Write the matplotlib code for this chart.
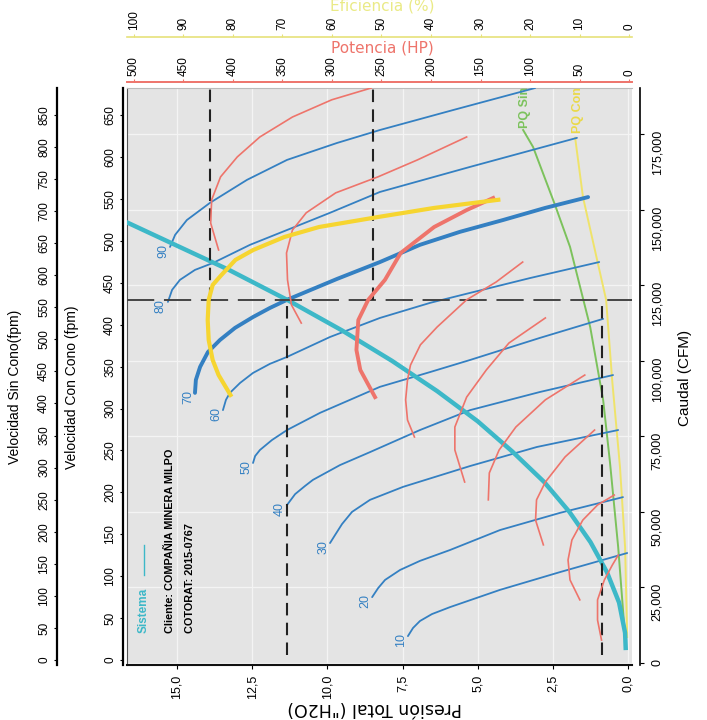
import numpy as np
import matplotlib
matplotlib.use('Agg')
import matplotlib.pyplot as plt
from matplotlib.ticker import FuncFormatter

plt.rcParams['font.family'] = ['Liberation Sans', 'DejaVu Sans']

# ---- values (pressure "H2O, flow CFM) ----
fan_angles = [10, 20, 30, 40, 50, 60, 70, 80, 90]
fan_p = {
    10: [7.32, 7.15, 6.92, 6.52, 5.92, 4.26, 2.26, 0.03],
    20: [8.51, 8.31, 8.08, 7.58, 6.92, 5.92, 4.26, 2.26, 0.17],
    30: [9.91, 9.74, 9.51, 9.18, 8.58, 7.48, 5.25, 3.03, 0.33],
    40: [11.34, 11.07, 10.74, 10.48, 9.58, 8.58, 6.92, 5.25, 2.93, 0.50],
    50: [12.47, 12.40, 12.24, 11.84, 11.34, 10.24, 8.25, 6.58, 5.25, 2.93, 0.83],
    60: [13.47, 13.37, 13.24, 12.90, 12.47, 11.91, 11.34, 9.91, 8.25, 6.58, 5.25, 3.26, 0.96],
    70: [14.40, 14.37, 14.23, 13.97, 13.57, 13.07, 12.47, 11.91, 11.34, 9.68, 8.25, 6.92,
         5.59, 4.16, 2.76, 1.33],
    80: [15.30, 15.16, 14.90, 14.40, 13.80, 12.57, 11.34, 9.91, 8.25, 5.25, 1.70],
    90: [15.23, 15.06, 14.67, 13.90, 12.67, 11.34, 9.68, 8.25, 5.82, 3.09],
}
fan_q = {
    10: [8900, 11600, 13900, 16200, 18500, 24200, 30100, 36400],
    20: [21800, 24800, 27500, 30800, 33800, 37400, 44000, 49700, 54900],
    30: [39700, 42400, 46000, 50000, 54000, 58300, 65200, 71500, 77100],
    40: [52300, 55900, 58600, 60600, 65500, 69800, 77100, 83700, 89700, 95300],
    50: [66200, 68500, 70500, 73800, 77100, 82800, 91400, 96300, 100300, 107600, 113900],
    60: [83700, 87100, 89400, 92700, 96000, 99000, 101300, 107900, 114200, 119200, 122500,
         127400, 132700],
    70: [89400, 93700, 98000, 102900, 106900, 110900, 114500, 117500, 120200, 127100, 132700,
         138400, 142700, 146600, 150600, 154200],
    80: [119500, 123500, 126800, 130100, 132400, 138400, 143300, 149000, 155900, 164200, 173800],
    90: [137700, 141700, 146600, 152300, 159900, 166500, 172100, 176400, 183000, 190300],
}

# power curves (HP) per blade angle
pow_hp = {
    10: [27.8, 31.8, 31.8, 24.9, 16.9, 10.9],
    20: [49.7, 59.6, 61.6, 57.7, 46.7, 31.8, 14.9],
    30: [86.5, 94.4, 93.4, 84.5, 64.6, 34.8],
    40: [142.1, 141.1, 131.2, 114.3, 84.5, 44.7],
    50: [166.0, 175.9, 175.9, 164.0, 144.1, 121.3, 84.5],
    60: [216.7, 223.7, 225.6, 223.7, 220.7, 210.7, 193.8, 164.0, 134.2, 107.4],
    70: [256.5, 271.4, 275.3, 273.4, 263.4, 246.5, 230.6, 196.8, 164.0, 137.2],
    80: [331.0, 340.9, 344.9, 345.9, 339.9, 326.0, 296.2, 253.5, 213.7, 164.0],
    90: [414.5, 422.5, 421.5, 412.5, 395.6, 372.8, 339.9, 300.2, 260.4],
}
pow_q = {
    10: [7600, 14200, 20900, 27500, 32400, 35700],
    20: [20900, 27500, 34100, 40700, 47300, 52300, 55600],
    30: [39100, 47300, 54000, 59900, 68200, 77100],
    40: [54000, 62900, 70500, 78100, 87100, 95300],
    50: [59900, 70500, 78100, 88000, 97000, 105900, 114200],
    60: [74800, 80400, 87100, 93700, 98600, 105300, 111200, 120200, 126100, 132700],
    70: [88000, 97000, 103600, 113500, 120200, 126800, 135700, 144300, 149900, 153900],
    80: [112500, 118500, 126800, 135700, 143300, 149000, 155600, 160900, 166500, 174100],
    90: [136700, 145600, 153300, 160900, 167500, 174100, 180700, 186400, 190300],
}

# efficiency curve (%) of the selected 70 deg fan
eff_pct = [80.5, 82.9, 84.1, 84.9, 85.1, 84.9, 84.1, 82.5, 79.5, 75.9, 69.6, 62.6, 50.7, 39.4, 26.4]
eff_q = [88700, 95300, 100300, 106900, 113500, 120200, 125100, 128100, 133400, 136700, 141000,
         144300, 147600, 150600, 153300]

# system curve
sys_p = [0.08, 0.10, 0.30, 0.70, 1.25, 1.95, 2.80, 3.85, 5.00, 6.35, 7.85, 9.50, 11.30, 13.25, 16.70]
sys_q = [5000, 10000, 20000, 30000, 40000, 50000, 60000, 70000, 80000, 90000, 100000, 110000,
         120000, 130000, 146000]

# velocity pressure without / with cone
pq_sin_p = [0.10, 0.33, 0.60, 0.83, 1.26, 1.93, 2.43, 3.16, 3.49]
pq_sin_q = [8600, 38400, 66200, 87100, 111200, 137700, 151600, 170800, 176400]
pq_con_p = [0.03, 0.10, 0.27, 0.53, 0.73, 1.03, 1.50, 1.76]
pq_con_q = [8600, 38400, 64900, 93700, 120200, 133400, 154200, 173800]

# duty point and tolerance limits
op_q = 120200
op_p = 11.34
p_low = [11.34, 0.86]
p_high = [13.90, 8.48]

p_ticks = [0, 2.5, 5, 7.5, 10, 12.5, 15]
q_ticks = [0, 25000, 50000, 75000, 100000, 125000, 150000, 175000]
hp_ticks = list(range(0, 501, 50))
eff_ticks = list(range(0, 101, 10))
vcon_ticks = list(range(0, 651, 50))
vsin_ticks = list(range(0, 851, 50))

BLUE = '#3480c2'
RED = '#ee746b'
TEAL = '#3db8c8'
YEL = '#f6d530'
GREEN = '#7cc25c'
PQYEL = '#efe36a'

PT = 0.72  # points per pixel at 100 dpi
W, H = 707, 720
fig = plt.figure(figsize=(W / 100, H / 100), dpi=100)
L, R, T, B = 127, 632, 88, 665
ax = fig.add_axes([L / W, 1 - B / H, (R - L) / W, (B - T) / H])
ax.set_facecolor('#e4e4e4')
ax.set_xlim(16.66, -0.13)
ax.set_ylim(-660, 190300)
ax.grid(True, color='#f4f4f4', lw=0.9)
ax.set_axisbelow(True)

for a in fan_angles:
    lw = 2.8 if a == 70 else 1.3
    ax.plot(fan_p[a], fan_q[a], color=BLUE, lw=lw, zorder=4, solid_capstyle='round')
    ax.annotate(str(a), xy=(fan_p[a][0], fan_q[a][0]), xytext=(-5, -3),
                textcoords='offset points', rotation=90, ha='center', va='center',
                color=BLUE, fontsize=9, zorder=6)

ax.plot(sys_p, sys_q, color=TEAL, lw=3.2, zorder=5)
ax.plot(pq_sin_p, pq_sin_q, color=GREEN, lw=1.4, zorder=3)
ax.plot(pq_con_p, pq_con_q, color=PQYEL, lw=1.4, zorder=3)
ax.text(pq_sin_p[-1] - 0.05, pq_sin_q[-1] + 800, 'PQ Sin', rotation=90, color=GREEN,
        fontsize=9, ha='center', va='bottom', fontweight='bold', clip_on=True)
ax.text(pq_con_p[-1] - 0.1, pq_con_q[-1] + 1500, 'PQ Con', rotation=90, color='#ead94a',
        fontsize=9, ha='center', va='bottom', fontweight='bold', clip_on=True)

dash = dict(color='#222222', lw=1.5, ls=(0, (6, 3.5)), zorder=6)
ax.plot([16.66, -0.13], [op_q, op_q], color='#444444', lw=1.4, ls=(0, (14, 5)), zorder=6)
for p in p_low:
    ax.plot([p, p], [2500, op_q], **dash)
for p in p_high:
    ax.plot([p, p], [op_q, 190300], **dash)

ax.text(0.032, 0.055, 'Sistema', transform=ax.transAxes, rotation=90, color=TEAL,
        fontsize=8.5, fontweight='bold', ha='center', va='bottom')
ax.plot([0.034, 0.034], [0.156, 0.208], transform=ax.transAxes, color=TEAL, lw=1)
ax.text(0.085, 0.055, 'Cliente: COMPAÑIA MINERA MILPO', transform=ax.transAxes,
        rotation=90, fontsize=7.8, fontweight='bold', ha='center', va='bottom')
ax.text(0.125, 0.055, 'COTORAT: 2015-0767', transform=ax.transAxes,
        rotation=90, fontsize=7.8, fontweight='bold', ha='center', va='bottom')

# power axis (top, red)
ax_hp = ax.twiny()
ax_hp.set_xlim(507, -3)
for a in fan_angles:
    lw = 2.8 if a == 70 else 1.2
    ax_hp.plot(pow_hp[a], pow_q[a], color=RED, lw=lw, zorder=3)
ax_hp.set_xticks(hp_ticks)
ax_hp.spines['top'].set_position(('outward', 6 * PT))
ax_hp.spines['top'].set_color(RED)
ax_hp.spines['top'].set_linewidth(1.4)
for s in ['left', 'right', 'bottom']:
    ax_hp.spines[s].set_visible(False)
ax_hp.tick_params(axis='x', labelrotation=90, labelsize=8.5, length=2, color=RED, pad=2)
fig.text(382 / W, 1 - 48 / H, 'Potencia (HP)', color=RED, ha='center', va='center', fontsize=11,
         family=['DejaVu Sans'])

# efficiency axis (top, yellow)
ax_ef = ax.twiny()
ax_ef.set_xlim(101.4, -0.6)
ax_ef.plot(eff_pct, eff_q, color=YEL, lw=3.0, zorder=3)
ax_ef.set_xticks(eff_ticks)
ax_ef.spines['top'].set_position(('outward', 51 * PT))
ax_ef.spines['top'].set_color('#e6e27a')
ax_ef.spines['top'].set_linewidth(1.2)
for s in ['left', 'right', 'bottom']:
    ax_ef.spines[s].set_visible(False)
ax_ef.tick_params(axis='x', labelrotation=90, labelsize=8.5, length=2, color='#e6e27a', pad=3)
fig.text(382 / W, 1 - 6 / H, 'Eficiencia (%)', color='#eaea86', ha='center', va='center', fontsize=11,
         family=['DejaVu Sans'])

# velocity axes (left)
for ticks, lim, off, lab, lx in [
        (vcon_ticks, (-6, 682.5), 4, 'Velocidad Con Cono (fpm)', 72),
        (vsin_ticks, (-7.8, 892), 70, 'Velocidad Sin Cono(fpm)', 15)]:
    av = ax.twinx()
    av.set_ylim(*lim)
    av.set_yticks(ticks)
    av.yaxis.tick_left()
    av.spines['left'].set_visible(True)
    av.spines['left'].set_position(('outward', off * PT))
    av.spines['left'].set_linewidth(1.6)
    for s in ['right', 'top', 'bottom']:
        av.spines[s].set_visible(False)
    av.tick_params(axis='y', labelrotation=90, labelsize=8.5, length=2, pad=3)
    for t in av.get_yticklabels():
        t.set_va('center')
    fig.text(lx / W, 1 - 387 / H, lab, rotation=90, ha='center', va='center', fontsize=10)

# main axis ticks (after the twins, which move the y ticks)
ax.yaxis.tick_right()
ax.set_xticks(p_ticks)
ax.xaxis.set_major_formatter(FuncFormatter(lambda v, _: f'{v:.1f}'.replace('.', ',')))
ax.set_yticks(q_ticks)
ax.yaxis.set_major_formatter(FuncFormatter(lambda v, _: f'{v:,.0f}'))
ax.tick_params(axis='x', labelrotation=90, labelsize=9, length=3, pad=4)
ax.tick_params(axis='y', labelrotation=90, labelsize=9, length=3, pad=5)
for lab in ax.get_yticklabels():
    lab.set_va('center')
ax.spines['bottom'].set_color('#111111')
ax.spines['bottom'].set_linewidth(1.5)
ax.spines['right'].set_position(('outward', 8 * PT))
ax.spines['right'].set_linewidth(1.2)
ax.spines['top'].set_color('#bbbbbb')
ax.spines['left'].set_color('#555555')

fig.text(375 / W, 1 - 708 / H, 'Presión Total ("H2O)', rotation=180, ha='center', va='center',
         fontsize=12.5, family=['DejaVu Sans'])
fig.text(685 / W, 1 - 378 / H, 'Caudal (CFM)', rotation=90, ha='center', va='center', fontsize=11)

fig.savefig('out.png', dpi=100)
